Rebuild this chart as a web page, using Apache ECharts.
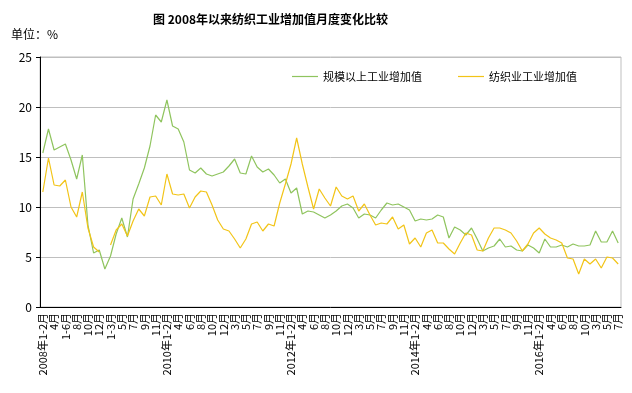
<!DOCTYPE html>
<html>
<head>
<meta charset="utf-8">
<script src="https://cdn.jsdelivr.net/npm/echarts@6/dist/echarts.min.js"></script>
<style>html,body{margin:0;padding:0;background:#fff}#c{width:632px;height:393px}</style>
</head>
<body>
<div id="c"></div>
<script>
var categories = [
  '2008年1-2月','3月','4月','5月','1-6月','7月','8月','9月','10月','11月','12月',
  '2009年1-2月','1-3月','4月','5月','6月','7月','8月','9月','10月','11月','12月',
  '2010年1-2月','3月','4月','5月','6月','7月','8月','9月','10月','11月','12月',
  '2011年1-2月','3月','4月','5月','6月','7月','8月','9月','10月','11月','12月',
  '2012年1-2月','3月','4月','5月','6月','7月','8月','9月','10月','11月','12月',
  '2013年1-2月','3月','4月','5月','6月','7月','8月','9月','10月','11月','12月',
  '2014年1-2月','3月','4月','5月','6月','7月','8月','9月','10月','11月','12月',
  '2015年1-2月','3月','4月','5月','6月','7月','8月','9月','10月','11月','12月',
  '2016年1-2月','3月','4月','5月','6月','7月','8月','9月','10月','11月',
  '3月','4月','5月','6月','7月'
];
var seriesNames = ['规模以上工业增加值', '纺织业工业增加值'];
var industryValues = [
  15.4, 17.8, 15.7, 16.0, 16.3, 14.7, 12.8, 15.2, 8.2, 5.4, 5.7,
  3.8, 5.1, 7.3, 8.9, 7.0, 10.8, 12.3, 13.9, 16.1, 19.2, 18.5,
  20.7, 18.1, 17.8, 16.5, 13.7, 13.4, 13.9, 13.3, 13.1, 13.3, 13.5,
  14.1, 14.8, 13.4, 13.3, 15.1, 14.0, 13.5, 13.8, 13.2, 12.4, 12.8,
  11.4, 11.9, 9.3, 9.6, 9.5, 9.2, 8.9, 9.2, 9.6, 10.1, 10.3,
  9.9, 8.9, 9.3, 9.2, 8.9, 9.7, 10.4, 10.2, 10.3, 10.0, 9.7,
  8.6, 8.8, 8.7, 8.8, 9.2, 9.0, 6.9, 8.0, 7.7, 7.2, 7.9,
  6.8, 5.6, 5.9, 6.1, 6.8, 6.0, 6.1, 5.7, 5.6, 6.2, 5.9,
  5.4, 6.8, 6.0, 6.0, 6.2, 6.0, 6.3, 6.1, 6.1, 6.2,
  7.6, 6.5, 6.5, 7.6, 6.4
];
var textileValues = [
  11.5, 14.9, 12.2, 12.1, 12.7, 10.0, 9.0, 11.5, 7.9, 6.0, 5.5,
  null, 6.2, 7.7, 8.3, 7.1, 8.6, 9.8, 9.1, 11.0, 11.1, 10.2,
  13.3, 11.3, 11.2, 11.3, 9.9, 11.0, 11.6, 11.5, 10.2, 8.7, 7.8,
  7.6, 6.8, 5.9, 6.8, 8.3, 8.5, 7.6, 8.3, 8.1, 10.4, 12.3,
  14.3, 16.9, 14.3, 12.0, 9.8, 11.8, 10.9, 10.1, 12.0, 11.1, 10.8,
  11.1, 9.6, 10.3, 9.2, 8.2, 8.4, 8.3, 9.0, 7.8, 8.2, 6.3,
  6.9, 6.0, 7.4, 7.7, 6.4, 6.4, 5.8, 5.3, 6.4, 7.4, 7.2,
  5.7, 5.6, 6.9, 7.9, 7.9, 7.7, 7.4, 6.6, 5.6, 6.3, 7.4,
  7.9, 7.3, 6.9, 6.7, 6.4, 4.9, 4.8, 3.3, 4.8, 4.3,
  4.8, 3.9, 5.0, 4.9, 4.3
];
var yTicks = [0, 5, 10, 15, 20, 25];

var FONT = '"Noto Sans CJK SC", "Noto Sans", sans-serif';
var chart = echarts.init(document.getElementById('c'), null, {renderer: 'canvas'});
chart.setOption({
  animation: false,
  backgroundColor: '#ffffff',
  title: [
    {text: '图 2008年以来纺织工业增加值月度变化比较', left: 148, top: 8,
     textStyle: {fontSize: 12, fontWeight: 'bold', color: '#000', fontFamily: FONT}},
    {text: '单位：%', left: 6, top: 23,
     textStyle: {fontSize: 12, fontWeight: 'normal', color: '#000', fontFamily: FONT}}
  ],
  legend: {
    data: seriesNames, left: 287, top: 66, itemWidth: 26, itemHeight: 1.2, itemGap: 36,
    icon: 'rect',
    textStyle: {fontSize: 11, color: '#000', fontFamily: FONT}
  },
  grid: {left: 40, right: 11, top: 57, bottom: 86, show: true, borderColor: '#bfbfbf', borderWidth: 1},
  xAxis: {
    type: 'category', data: categories, boundaryGap: true,
    axisLine: {lineStyle: {color: '#000', width: 1}},
    axisTick: {interval: 0, length: 4, lineStyle: {color: '#000'}},
    axisLabel: {interval: 1, rotate: 90, fontSize: 11, color: '#000', margin: 6, fontFamily: FONT},
    splitLine: {show: false}
  },
  yAxis: {
    type: 'value', min: yTicks[0], max: yTicks[yTicks.length - 1], interval: 5,
    axisLine: {show: true, lineStyle: {color: '#000', width: 1}},
    axisTick: {show: true, length: 4, lineStyle: {color: '#000'}},
    axisLabel: {fontSize: 12, color: '#000', margin: 8, fontFamily: FONT},
    splitLine: {lineStyle: {color: '#bfbfbf', width: 1}}
  },
  series: [
    {name: seriesNames[0], type: 'line', data: industryValues, symbol: 'none',
     lineStyle: {color: '#8fc45e', width: 1.2}, itemStyle: {color: '#8fc45e'}},
    {name: seriesNames[1], type: 'line', data: textileValues, symbol: 'none', connectNulls: false,
     lineStyle: {color: '#f2c417', width: 1.2}, itemStyle: {color: '#f2c417'}}
  ]
});
</script>
</body>
</html>
